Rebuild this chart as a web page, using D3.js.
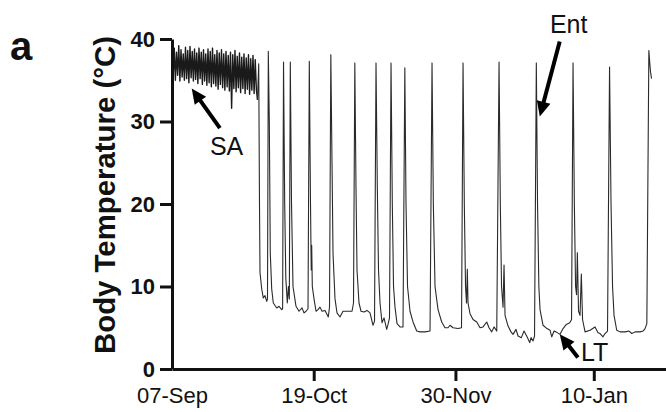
<!DOCTYPE html>
<html>
<head>
<meta charset="utf-8">
<script src="https://cdn.jsdelivr.net/npm/d3@7"></script>
<style>
  body { margin: 0; background: #fff; }
  text { font-family: "Liberation Sans", Arial, Helvetica, sans-serif; }
</style>
</head>
<body>
<svg id="chart" width="666" height="412"></svg>
<script>
// body temperature record, days counted from 07-Sep
var startDate = Date.UTC(2019, 8, 7);

// euthermic part: three readings a day, day 0 .. 25.3
var euthermicTemps = [
  37.6, 35.3, 38.9, 35.0, 38.4, 35.6, 39.2, 34.9, 38.7, 35.4,
  38.2, 35.0, 39.0, 35.2, 38.6, 34.7, 39.1, 35.3, 38.5, 34.9,
  38.8, 35.1, 38.3, 34.6, 38.9, 35.2, 38.4, 34.5, 38.7, 34.9,
  38.2, 34.4, 38.8, 34.7, 38.5, 34.2, 38.9, 34.6, 38.1, 34.3,
  38.6, 33.9, 38.3, 34.5, 38.7, 34.1, 38.2, 33.8, 38.5, 34.2,
  38.0, 33.7, 38.4, 31.6, 38.1, 34.0, 38.6, 33.6, 37.9, 34.1,
  38.3, 33.5, 37.8, 34.0, 38.2, 33.4, 37.7, 33.9, 38.1, 33.3,
  37.6, 33.8, 38.0, 33.4, 37.5, 33.9, 32.6
];

// hibernation part: torpor bouts and arousals
var hibDays = [
  25.70, 25.93, 26.08, 26.59, 27.06, 27.56, 28.07, 28.30, 28.54, 28.84,
  29.13, 29.55, 30.02, 31.03, 31.71, 32.51, 32.78, 33.05, 33.40, 33.73,
  34.17, 34.50, 34.77, 35.06, 35.42, 35.86, 36.75, 37.64, 38.53, 39.12,
  39.72, 40.31, 40.69, 41.05, 41.26, 41.40, 41.58, 42.09, 42.68, 43.27,
  43.86, 44.46, 45.35, 46.32, 46.68, 47.07, 47.42, 47.72, 48.31, 48.90,
  49.79, 50.68, 51.57, 52.46, 53.35, 53.79, 54.18, 54.53, 54.83, 55.42,
  56.02, 56.91, 57.79, 58.68, 59.57, 60.02, 60.46, 60.85, 61.20, 61.65,
  62.24, 62.83, 63.63, 64.02, 64.46, 64.91, 65.29, 65.65, 66.09, 66.69,
  67.58, 68.46, 69.00, 69.35, 69.80, 70.54, 71.43, 72.52, 73.50, 74.98,
  76.47, 77.06, 77.45, 77.95, 78.84, 79.93, 80.91, 81.80, 82.39, 83.28,
  84.77, 85.80, 86.25, 86.63, 86.99, 87.28, 87.52, 87.73, 88.32, 89.21,
  90.31, 91.29, 92.18, 93.27, 93.95, 94.75, 95.44, 96.24, 96.92, 97.30,
  97.66, 98.10, 98.40, 98.70, 99.59, 100.47, 101.07, 101.96, 102.55, 103.53,
  104.33, 105.22, 106.02, 106.40, 107.00, 107.44, 107.97, 108.33, 108.72, 109.07,
  109.96, 111.14, 112.03, 112.54, 113.22, 113.81, 115.00, 115.89, 116.86, 117.87,
  118.41, 118.85, 119.24, 119.60, 119.89, 120.13, 120.48, 120.92, 121.31, 121.67,
  122.41, 123.89, 125.37, 126.26, 126.85, 127.74, 128.33, 129.07, 129.67, 130.11,
  130.56, 131.00, 131.80, 132.78, 134.26, 135.45, 136.25, 137.23, 138.71, 139.60,
  140.19, 140.72, 141.32, 141.61, 141.82, 142.12
];
var hibTemps = [
  37.0, 20.0, 11.7, 9.7, 8.6, 8.9, 8.2, 8.5, 38.5, 30.0,
  14.0, 9.7, 8.0, 7.4, 7.6, 7.2, 7.3, 37.2, 20.0, 11.0,
  8.0, 10.0, 8.5, 37.2, 20.0, 10.0, 7.6, 7.0, 7.4, 6.8,
  7.0, 7.3, 37.3, 20.0, 12.0, 15.0, 10.0, 8.5, 7.0, 7.2,
  7.5, 7.0, 7.1, 6.3, 7.5, 38.1, 25.0, 14.0, 8.5, 6.8,
  6.3, 7.0, 7.0, 7.0, 7.0, 8.0, 37.1, 22.0, 12.0, 8.0,
  7.0, 6.9, 7.1, 6.8, 5.3, 5.8, 37.1, 22.0, 12.0, 8.0,
  5.6, 6.2, 4.8, 5.4, 6.2, 37.1, 20.0, 10.0, 7.5, 5.5,
  5.1, 5.1, 36.5, 20.0, 10.0, 7.0, 5.7, 4.6, 4.5, 4.5,
  4.6, 37.1, 20.0, 10.0, 7.2, 5.7, 5.0, 5.0, 5.3, 5.0,
  4.9, 5.0, 37.1, 20.0, 10.0, 8.0, 12.1, 8.0, 6.7, 6.0,
  5.7, 5.0, 5.1, 5.7, 5.0, 4.5, 5.1, 4.6, 37.2, 20.0,
  10.0, 7.5, 12.6, 6.5, 5.2, 4.5, 4.2, 4.8, 4.0, 3.8,
  4.6, 3.9, 3.2, 3.8, 3.4, 4.0, 37.1, 20.0, 10.0, 7.2,
  5.3, 4.9, 4.7, 3.9, 4.6, 4.5, 4.2, 4.9, 5.4, 5.6,
  6.0, 37.1, 20.0, 10.0, 9.0, 14.1, 7.0, 6.5, 11.5, 6.0,
  4.5, 4.7, 5.1, 4.4, 4.3, 3.9, 4.3, 4.6, 36.6, 20.0,
  10.0, 6.5, 4.7, 4.5, 4.5, 4.6, 4.3, 4.5, 4.5, 4.6,
  4.9, 5.5, 38.6, 37.0, 36.0, 35.2
];

var xTickLabels = ["07-Sep", "19-Oct", "30-Nov", "10-Jan"];
var xTickDays = [0, 42, 84, 125];
var yTicks = [0, 10, 20, 30, 40];

// annotation arrows (tip / tail in day, temperature)
var annoLabels = ["SA", "Ent", "LT"];
var annoTip = [[5.84, 34.0], [109.0, 30.6], [114.9, 4.2]];
var annoTail = [[14.2, 29.2], [114.9, 39.7], [120.3, 1.4]];

function toDate(day) { return new Date(startDate + day * 864e5); }

var euPoints = euthermicTemps.map(function(t, i) { return {date: toDate(i / 3), temp: t}; });
var hibPoints = [euPoints[euPoints.length - 1]];
hibDays.forEach(function(d, i) { hibPoints.push({date: toDate(d), temp: hibTemps[i]}); });

var svg = d3.select("#chart"),
    margin = {top: 39, right: 0, bottom: 43, left: 172},
    width = +svg.attr("width") - margin.left - margin.right,
    height = +svg.attr("height") - margin.top - margin.bottom;

var x = d3.scaleUtc().domain([toDate(0), toDate(146.4)]).range([0, width]),
    y = d3.scaleLinear().domain([0, 40]).range([height, 0]);

var g = svg.append("g")
    .attr("transform", "translate(" + margin.left + "," + margin.top + ")");

// the trace
var line = d3.line()
    .x(function(d) { return x(d.date); })
    .y(function(d) { return y(d.temp); });

g.append("path")
    .datum(euPoints)
    .attr("fill", "none")
    .attr("stroke", "#1a1a1a")
    .attr("stroke-width", 1.4)
    .attr("stroke-linejoin", "round")
    .attr("d", line);

g.append("path")
    .datum(hibPoints)
    .attr("fill", "none")
    .attr("stroke", "#2a2a2a")
    .attr("stroke-width", 1.1)
    .attr("stroke-linejoin", "round")
    .attr("d", line);

// x axis
var xAxis = g.append("g")
    .attr("transform", "translate(0," + height + ")")
    .call(d3.axisBottom(x)
      .tickValues(xTickDays.map(toDate))
      .tickFormat(function(d, i) { return xTickLabels[i]; })
      .tickSize(12).tickPadding(6).tickSizeOuter(0));
xAxis.selectAll(".tick line").filter(function(d, i) { return i === 0; }).remove();
xAxis.selectAll("text").attr("font-size", 22).attr("fill", "#111");

// y axis
var yAxis = g.append("g")
    .call(d3.axisLeft(y).tickValues(yTicks).tickSize(12).tickPadding(5).tickSizeOuter(0));
yAxis.selectAll("text").attr("font-size", 22).attr("font-weight", "bold").attr("fill", "#111");

svg.selectAll(".domain, .tick line").attr("stroke", "#111").attr("stroke-width", 3);
svg.selectAll(".tick text").attr("font-family", "Liberation Sans, Arial, sans-serif");

// y title
svg.append("text")
    .attr("transform", "translate(115,195) rotate(-90)")
    .attr("text-anchor", "middle")
    .attr("font-size", 29)
    .attr("font-weight", "bold")
    .attr("textLength", 318)
    .attr("lengthAdjust", "spacingAndGlyphs")
    .attr("fill", "#111")
    .text("Body Temperature (\u00B0C)");

// panel letter
svg.append("text")
    .attr("x", 10).attr("y", 60)
    .attr("font-size", 40)
    .attr("font-weight", "bold")
    .attr("fill", "#111")
    .text("a");

// arrows
var labelOffset = [[-10, 27, "start"], [9, -8, "middle"], [3, 4, "start"]];
annoLabels.forEach(function(lab, i) {
  var tx = x(toDate(annoTip[i][0])), ty = y(annoTip[i][1]),
      sx = x(toDate(annoTail[i][0])), sy = y(annoTail[i][1]);
  var dx = tx - sx, dy = ty - sy, len = Math.sqrt(dx * dx + dy * dy);
  var ux = dx / len, uy = dy / len, head = 15, half = 7;
  var bx = tx - ux * head, by = ty - uy * head;
  g.append("line")
      .attr("x1", sx).attr("y1", sy).attr("x2", bx + ux * 2).attr("y2", by + uy * 2)
      .attr("stroke", "#000").attr("stroke-width", 4);
  g.append("path")
      .attr("d", "M" + tx + "," + ty +
        "L" + (bx - uy * half) + "," + (by + ux * half) +
        "L" + (bx + uy * half) + "," + (by - ux * half) + "Z")
      .attr("fill", "#000");
  g.append("text")
      .attr("x", sx + labelOffset[i][0])
      .attr("y", sy + labelOffset[i][1])
      .attr("text-anchor", labelOffset[i][2])
      .attr("font-size", 25)
      .attr("fill", "#111")
      .text(lab);
});
</script>
</body>
</html>
